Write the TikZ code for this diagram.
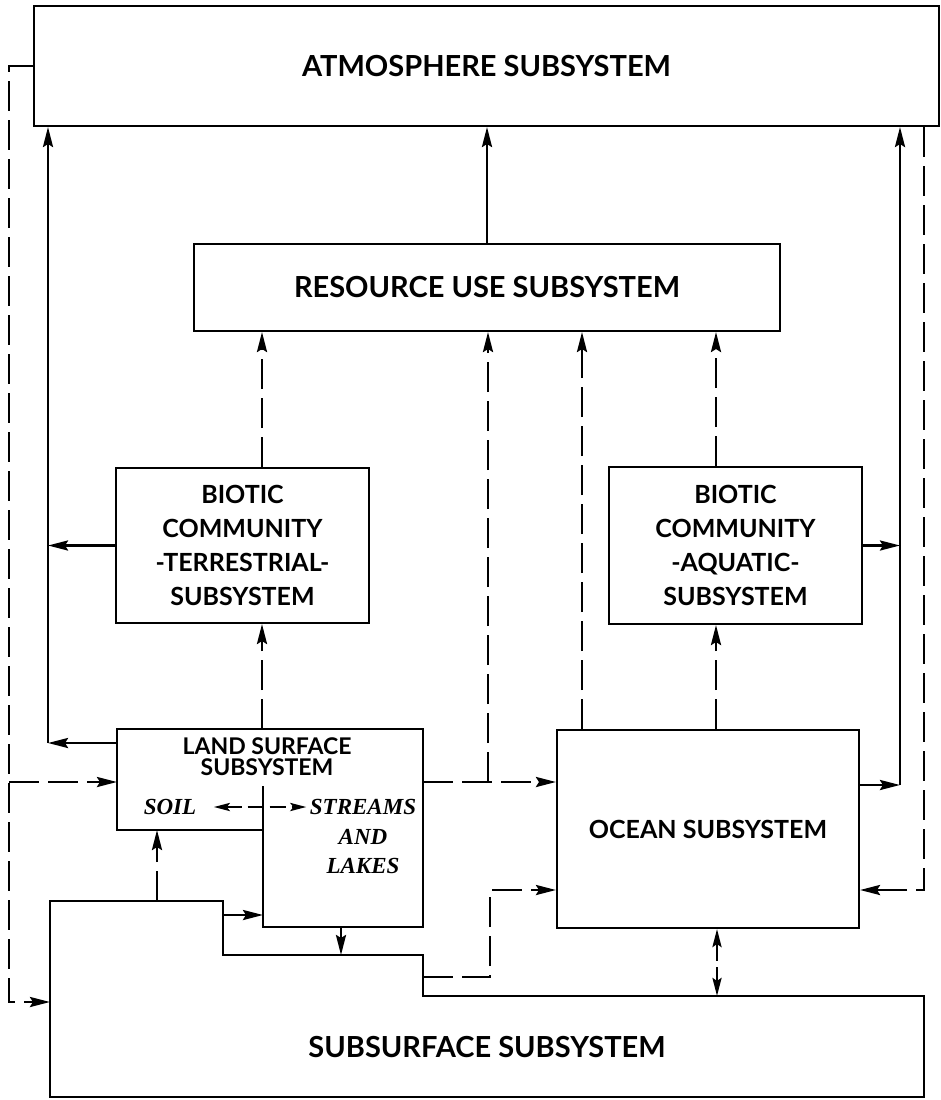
\documentclass[tikz,border=0pt]{standalone}
\usepackage{fontspec}
\setmainfont{Lato}
\newfontfamily\tagfont{Liberation Serif}
\usetikzlibrary{arrows.meta}

\begin{document}
\begin{tikzpicture}[x=1pt, y=-1pt,
  box/.style={draw, line width=2pt, align=center, inner sep=0pt, anchor=north west},
  flow/.style={line width=2.8pt, -{Stealth[length=20pt,width=10pt,inset=3pt]}},
  dflow/.style={flow, dash pattern=on 30pt off 9pt},
  big/.style={font=\fontsize{29}{34}\selectfont\bfseries},
  mid/.style={font=\fontsize{25}{34}\selectfont\bfseries},
  tag/.style={font=\fontsize{23}{30}\selectfont\tagfont\bfseries\itshape}]

\useasboundingbox (0,0) rectangle (941,1100);

% Subsystem boxes
\node[box, big, minimum width=905pt, minimum height=120pt] (atmo) at (33,5) {ATMOSPHERE SUBSYSTEM};
\node[box, big, minimum width=586pt, minimum height=87pt] (res) at (193,243) {RESOURCE USE SUBSYSTEM};
\node[box, mid, minimum width=253pt, minimum height=155pt] (terr) at (115,467) {BIOTIC\\COMMUNITY\\-TERRESTRIAL-\\SUBSYSTEM};
\node[box, mid, minimum width=253pt, minimum height=157pt] (aqua) at (608,466) {BIOTIC\\COMMUNITY\\-AQUATIC-\\SUBSYSTEM};
\node[box, font=\fontsize{25}{30}\selectfont\bfseries, minimum width=302pt, minimum height=198pt] (ocean) at (556,729) {OCEAN SUBSYSTEM};

% Land surface (soil + streams and lakes)
\draw[line width=2pt] (117,729) coordinate (landNW) -| (423,927) coordinate (landSE) -- (263,927) |- (117,830) coordinate (soilSW) -- cycle;
\draw[line width=2pt] (263,786) -- (263,830);
\node[font=\fontsize{23}{21}\selectfont\bfseries, align=center] (land) at (267,757) {LAND SURFACE\\SUBSYSTEM};
\node[tag] (soil) at (170,807) {SOIL};
\node[tag] (streams) at (363,807) {STREAMS};
\node[tag] (and) at (363,837) {AND};
\node[tag] (lakes) at (363,866) {LAKES};

% Subsurface (stepped outline)
\draw[line width=2pt] (50,901) coordinate (subNW) -- (223,901) |- (423,955) |- (924,996) |- (50,1097) -- cycle;
\node[big] (sub) at (487,1047) {SUBSURFACE SUBSYSTEM};

% Solid flows to the atmosphere
\coordinate (lcorner) at (48,743);
\coordinate (rcorner) at (900,785);
\draw[flow] (res.north) -- (res.north |- atmo.south);
\draw[flow] (landNW |- lcorner) -- (lcorner);
\draw[flow] (lcorner) -- (lcorner |- atmo.south);
\draw[flow] (terr.west) -- (terr.west -| lcorner);
\draw[flow] (ocean.east |- rcorner) -- (rcorner);
\draw[flow] (rcorner) -- (rcorner |- atmo.south);
\draw[flow] (aqua.east) -- (aqua.east -| rcorner);

% Dashed loops down the sides
\coordinate (ldash) at (9,1002);
\coordinate (rdash) at (924,890);
\draw[dflow] (atmo.west) -| (ldash) -- (ldash -| subNW);
\draw[dflow] (ldash |- 0,782) -- (landNW |- 0,782);
\draw[dflow] (rdash |- atmo.south) -- (rdash) -- (ocean.east |- rdash);

% Dashed flows up to resource use
\coordinate (tx) at (262,0);
\coordinate (ax) at (716,0);
\draw[dflow] (tx |- terr.north) -- (tx |- res.south);
\draw[dflow] (tx |- landNW) -- (tx |- terr.south);
\draw[dflow] (ax |- aqua.north) -- (ax |- res.south);
\draw[dflow] (ax |- ocean.north) -- (ax |- aqua.south);
\draw[dflow] (ocean.north -| 582,0) -- (res.south -| 582,0);
\draw[dflow] (488,782) -- (res.south -| 488,0);
\draw[dflow] (landSE |- 0,782) -- (ocean.west |- 0,782);

% Soil <-> streams
\draw[dflow, {Stealth[length=16pt,width=8pt,inset=3pt]}-{Stealth[length=16pt,width=8pt,inset=3pt]}, dash pattern=on 16pt off 6pt, shorten <=14pt]
  (soil.east) -- (streams.west);

% Subsurface exchanges
\draw[dflow] (subNW -| 157,0) -- (soilSW -| 157,0);
\draw[dflow] (223,915) -- (263,915);
\draw[dflow] (341,927) -- (341,955);
\draw[dflow] (423,977) -| (490,890) -- (ocean.west |- 0,890);
\draw[dflow, {Stealth[length=18pt,width=9pt,inset=3pt]}-{Stealth[length=18pt,width=9pt,inset=3pt]}, dash pattern=on 18pt off 6pt]
  (ocean.south -| 717,0) -- (717,996);

\end{tikzpicture}
\end{document}
